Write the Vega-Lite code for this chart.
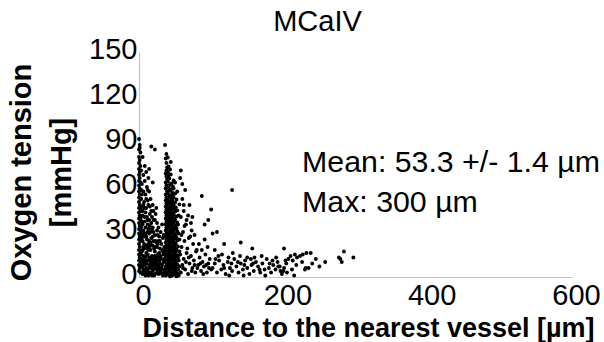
{
  "$schema": "https://vega.github.io/schema/vega-lite/v6.json",
  "autosize": {"type": "none"},
  "padding": {"left": 139, "top": 52, "right": 32, "bottom": 65},
  "width": 433,
  "height": 225,
  "background": "white",
  "config": {
    "view": {"stroke": null},
    "font": "Liberation Sans",
    "axis": {"grid": false, "ticks": false, "domainColor": "#c4c4c4", "domainWidth": 1.2, "labelColor": "black", "titleColor": "black", "labelFont": "Liberation Sans", "titleFont": "Liberation Sans"}
  },
  "title": {"text": "MCaIV", "fontSize": 29, "fontWeight": "normal", "color": "black", "font": "Liberation Sans", "anchor": "middle", "frame": "group", "dx": -38, "dy": 33, "baseline": "alphabetic", "offset": 8},
  "layer": [
    {
      "data": {"values": [
        {"x":0,"y":92},{"x":1,"y":88},{"x":0,"y":85},{"x":2,"y":83},{"x":0,"y":80},{"x":1,"y":78},{"x":0,"y":76},{"x":2,"y":74},{"x":0,"y":72},{"x":1,"y":70},{"x":0,"y":68},{"x":1,"y":66},{"x":0,"y":64},{"x":2,"y":63},{"x":0,"y":61},{"x":1,"y":59},{"x":0,"y":57},{"x":1,"y":55},{"x":0,"y":53},{"x":2,"y":52},{"x":0,"y":50},{"x":1,"y":48},{"x":0,"y":46},{"x":2,"y":45},{"x":0,"y":43},{"x":1,"y":41},{"x":0,"y":39},{"x":2,"y":38},{"x":0,"y":36},{"x":1,"y":34},{"x":0,"y":32},{"x":2,"y":31},{"x":0,"y":29},{"x":1,"y":27},{"x":0,"y":25},{"x":2,"y":24},{"x":0,"y":22},{"x":1,"y":20},{"x":0,"y":18},{"x":2,"y":17},{"x":0,"y":15},{"x":1,"y":13},{"x":0,"y":11},{"x":2,"y":10},{"x":0,"y":8},{"x":1,"y":6},{"x":0,"y":4},{"x":2,"y":3},{"x":1,"y":86},{"x":3,"y":71},{"x":3,"y":58},{"x":3,"y":44},{"x":3,"y":29},{"x":3,"y":15},{"x":3,"y":7},
        {"x":4,"y":3},{"x":6,"y":5},{"x":8,"y":2},{"x":10,"y":6},{"x":12,"y":4},{"x":14,"y":8},{"x":16,"y":3},{"x":18,"y":7},{"x":20,"y":5},{"x":22,"y":2},{"x":24,"y":9},{"x":26,"y":4},{"x":28,"y":6},{"x":30,"y":3},{"x":5,"y":10},{"x":7,"y":12},{"x":9,"y":9},{"x":11,"y":14},{"x":13,"y":11},{"x":15,"y":13},{"x":17,"y":10},{"x":19,"y":12},{"x":21,"y":8},{"x":23,"y":13},{"x":25,"y":11},{"x":27,"y":14},{"x":29,"y":9},{"x":31,"y":12},{"x":33,"y":5},{"x":34,"y":10},{"x":32,"y":2},{"x":5,"y":7},{"x":9,"y":4},{"x":13,"y":1},{"x":17,"y":6},{"x":21,"y":11},{"x":25,"y":3},{"x":29,"y":13},{"x":6,"y":14},{"x":10,"y":11},{"x":14,"y":6},{"x":18,"y":1},{"x":22,"y":9},{"x":26,"y":8},{"x":11,"y":2},{"x":19,"y":9},{"x":27,"y":2},{"x":3,"y":12},{"x":8,"y":8},{"x":16,"y":12},
        {"x":4,"y":17},{"x":7,"y":19},{"x":10,"y":16},{"x":13,"y":22},{"x":16,"y":18},{"x":19,"y":21},{"x":22,"y":17},{"x":25,"y":20},{"x":28,"y":16},{"x":5,"y":24},{"x":8,"y":27},{"x":11,"y":25},{"x":14,"y":29},{"x":17,"y":26},{"x":20,"y":30},{"x":23,"y":24},{"x":26,"y":28},{"x":6,"y":31},{"x":9,"y":33},{"x":12,"y":30},{"x":15,"y":34},{"x":18,"y":32},{"x":4,"y":28},{"x":7,"y":22},{"x":21,"y":19},{"x":24,"y":23},{"x":27,"y":24},{"x":13,"y":18},{"x":10,"y":21},{"x":16,"y":23},{"x":29,"y":19},{"x":31,"y":22},{"x":6,"y":20},{"x":12,"y":35},{"x":19,"y":27},{"x":9,"y":29},{"x":14,"y":20},{"x":3,"y":33},
        {"x":4,"y":37},{"x":8,"y":40},{"x":12,"y":38},{"x":5,"y":44},{"x":10,"y":46},{"x":15,"y":42},{"x":7,"y":50},{"x":3,"y":52},{"x":9,"y":55},{"x":13,"y":48},{"x":18,"y":40},{"x":6,"y":57},{"x":11,"y":60},{"x":16,"y":52},{"x":4,"y":62},{"x":8,"y":64},{"x":20,"y":44},{"x":22,"y":38},{"x":14,"y":57},{"x":25,"y":36},{"x":5,"y":41},{"x":17,"y":36},{"x":3,"y":47},{"x":12,"y":51},{"x":7,"y":46},
        {"x":5,"y":2},{"x":7,"y":4},{"x":9,"y":1},{"x":11,"y":5},{"x":13,"y":3},{"x":15,"y":6},{"x":17,"y":2},{"x":19,"y":4},{"x":21,"y":1},{"x":23,"y":6},{"x":25,"y":5},{"x":27,"y":7},{"x":29,"y":4},{"x":31,"y":6},{"x":33,"y":1},{"x":35,"y":3},{"x":4,"y":9},{"x":6,"y":11},{"x":8,"y":13},{"x":10,"y":9},{"x":12,"y":15},{"x":14,"y":12},{"x":16,"y":9},{"x":18,"y":14},{"x":20,"y":11},{"x":22,"y":14},{"x":24,"y":12},{"x":26,"y":15},{"x":28,"y":11},{"x":30,"y":14},{"x":32,"y":8},{"x":34,"y":15},{"x":5,"y":18},{"x":8,"y":21},{"x":11,"y":19},{"x":14,"y":24},{"x":17,"y":21},{"x":20,"y":24},{"x":23,"y":20},{"x":26,"y":22},{"x":29,"y":24},{"x":32,"y":18},{"x":35,"y":20},{"x":4,"y":26},{"x":7,"y":29},{"x":10,"y":27},{"x":13,"y":32},{"x":16,"y":30},{"x":19,"y":33},{"x":22,"y":28},{"x":25,"y":31},{"x":28,"y":27},{"x":33,"y":26},{"x":5,"y":35},{"x":8,"y":37},{"x":11,"y":40},{"x":14,"y":38},{"x":17,"y":44},{"x":20,"y":38},{"x":23,"y":42},{"x":6,"y":48},{"x":9,"y":43},{"x":15,"y":47},{"x":10,"y":52},{"x":4,"y":55},{"x":12,"y":58},{"x":19,"y":48},{"x":3,"y":40},{"x":24,"y":46},{"x":27,"y":33},{"x":30,"y":30},{"x":32,"y":35},{"x":34,"y":28},{"x":35,"y":12},{"x":33,"y":17},
        {"x":17,"y":87},{"x":22,"y":85},{"x":5,"y":80},{"x":10,"y":70},{"x":8,"y":74},{"x":13,"y":66},{"x":14,"y":72},{"x":19,"y":63},{"x":6,"y":68},
        {"x":37,"y":1},{"x":40,"y":1.7},{"x":43,"y":0.4},{"x":46,"y":1},{"x":49,"y":1.7},{"x":52,"y":0.4},{"x":55,"y":1},
        {"x":38,"y":3},{"x":41,"y":3.7},{"x":44,"y":2.4},{"x":47,"y":3},{"x":50,"y":3.7},{"x":53,"y":2.4},{"x":57,"y":3},
        {"x":36,"y":5},{"x":39,"y":5.7},{"x":42,"y":4.4},{"x":45,"y":5},{"x":48,"y":5.7},{"x":51,"y":4.4},{"x":54,"y":5},
        {"x":37,"y":7},{"x":40,"y":7.7},{"x":43,"y":6.4},{"x":46,"y":7},{"x":49,"y":7.7},{"x":52,"y":6.4},{"x":56,"y":7},
        {"x":38,"y":9},{"x":41,"y":9.7},{"x":44,"y":8.4},{"x":47,"y":9},{"x":50,"y":9.7},{"x":53,"y":8.4},
        {"x":36,"y":11},{"x":39,"y":11.7},{"x":42,"y":10.4},{"x":45,"y":11},{"x":48,"y":11.7},{"x":51,"y":10.4},{"x":55,"y":11},
        {"x":37,"y":13},{"x":40,"y":13.7},{"x":43,"y":12.4},{"x":46,"y":13},{"x":49,"y":13.7},{"x":52,"y":12.4},{"x":54,"y":13},
        {"x":38,"y":15},{"x":41,"y":15.7},{"x":44,"y":14.4},{"x":47,"y":15},{"x":50,"y":15.7},{"x":53,"y":14.4},
        {"x":36,"y":17},{"x":39,"y":17.7},{"x":42,"y":16.4},{"x":45,"y":17},{"x":48,"y":17.7},{"x":51,"y":16.4},{"x":56,"y":17},
        {"x":37,"y":19},{"x":40,"y":19.7},{"x":43,"y":18.4},{"x":46,"y":19},{"x":49,"y":19.7},{"x":52,"y":18.4},
        {"x":38,"y":21},{"x":41,"y":21.7},{"x":44,"y":20.4},{"x":47,"y":21},{"x":50,"y":21.7},{"x":54,"y":20.4},
        {"x":37,"y":23},{"x":39,"y":23.7},{"x":42,"y":22.4},{"x":45,"y":23},{"x":48,"y":23.7},{"x":51,"y":22.4},
        {"x":38,"y":25},{"x":40,"y":25.7},{"x":43,"y":24.4},{"x":46,"y":25},{"x":49,"y":25.7},{"x":53,"y":24.4},{"x":56,"y":25},
        {"x":37,"y":27},{"x":41,"y":27.7},{"x":44,"y":26.4},{"x":47,"y":27},{"x":50,"y":27.7},{"x":52,"y":26.4},
        {"x":38,"y":29},{"x":40,"y":29.7},{"x":42,"y":28.4},{"x":45,"y":29},{"x":48,"y":29.7},{"x":51,"y":28.4},{"x":55,"y":29},
        {"x":37,"y":31},{"x":39,"y":31.7},{"x":43,"y":30.4},{"x":46,"y":31},{"x":49,"y":31.7},{"x":53,"y":30.4},
        {"x":38,"y":33},{"x":41,"y":33.7},{"x":44,"y":32.4},{"x":47,"y":33},{"x":50,"y":33.7},{"x":52,"y":32.4},
        {"x":37,"y":35},{"x":40,"y":35.7},{"x":42,"y":34.4},{"x":45,"y":35},{"x":48,"y":35.7},{"x":51,"y":34.4},{"x":54,"y":35},
        {"x":38,"y":37},{"x":41,"y":37.7},{"x":43,"y":36.4},{"x":46,"y":37},{"x":49,"y":37.7},{"x":53,"y":36.4},
        {"x":37,"y":39},{"x":39,"y":39.7},{"x":42,"y":38.4},{"x":44,"y":39},{"x":47,"y":39.7},{"x":50,"y":38.4},
        {"x":38,"y":41},{"x":40,"y":41.7},{"x":43,"y":40.4},{"x":46,"y":41},{"x":48,"y":41.7},{"x":52,"y":40.4},{"x":55,"y":41},
        {"x":37,"y":43},{"x":41,"y":43.7},{"x":44,"y":42.4},{"x":47,"y":43},{"x":50,"y":43.7},
        {"x":38,"y":45},{"x":40,"y":45.7},{"x":42,"y":44.4},{"x":45,"y":45},{"x":49,"y":45.7},{"x":53,"y":44.4},
        {"x":37,"y":47},{"x":39,"y":47.7},{"x":43,"y":46.4},{"x":46,"y":47},{"x":48,"y":47.7},{"x":51,"y":46.4},
        {"x":38,"y":49},{"x":41,"y":49.7},{"x":44,"y":48.4},{"x":47,"y":49},{"x":50,"y":49.7},{"x":56,"y":48.4},
        {"x":37,"y":51},{"x":40,"y":51.7},{"x":43,"y":50.4},{"x":46,"y":51},{"x":52,"y":51.7},
        {"x":38,"y":53},{"x":42,"y":53.7},{"x":45,"y":52.4},{"x":48,"y":53},
        {"x":37,"y":55},{"x":40,"y":55.7},{"x":44,"y":54.4},{"x":47,"y":55},{"x":50,"y":55.7},
        {"x":39,"y":57},{"x":42,"y":57.7},{"x":46,"y":56.4},{"x":53,"y":57},
        {"x":37,"y":59},{"x":41,"y":59.7},{"x":44,"y":58.4},{"x":48,"y":59},
        {"x":38,"y":61},{"x":43,"y":61.7},{"x":47,"y":60.4},
        {"x":37,"y":63},{"x":40,"y":63.7},{"x":45,"y":62.4},{"x":50,"y":63},
        {"x":39,"y":65},{"x":42,"y":65.7},{"x":48,"y":64.4},
        {"x":38,"y":67},{"x":41,"y":67.7},
        {"x":37,"y":69},{"x":40,"y":69.7},{"x":44,"y":68.4},
        {"x":38,"y":71},{"x":43,"y":71.7},
        {"x":39,"y":73},{"x":41,"y":73.7},
        {"x":38,"y":76},{"x":44,"y":76.7},
        {"x":37,"y":79},{"x":40,"y":79.7},
        {"x":38,"y":82},{"x":36,"y":88},
        {"x":58,"y":3},{"x":60,"y":8},{"x":62,"y":12},{"x":64,"y":5},{"x":66,"y":16},{"x":68,"y":2},{"x":70,"y":9},{"x":72,"y":14},{"x":74,"y":6},{"x":76,"y":11},{"x":78,"y":3},{"x":80,"y":18},{"x":82,"y":8},{"x":84,"y":13},{"x":86,"y":4},{"x":88,"y":10},{"x":90,"y":7},{"x":92,"y":15},{"x":94,"y":3},{"x":96,"y":9},{"x":98,"y":12},{"x":100,"y":5},{"x":59,"y":20},{"x":63,"y":24},{"x":67,"y":19},{"x":71,"y":27},{"x":75,"y":22},{"x":79,"y":17},{"x":61,"y":30},{"x":65,"y":35},{"x":69,"y":26},{"x":73,"y":31},{"x":58,"y":40},{"x":62,"y":44},{"x":66,"y":38},{"x":70,"y":48},{"x":60,"y":52},{"x":64,"y":58},{"x":74,"y":40},{"x":77,"y":28},{"x":83,"y":22},{"x":87,"y":18},{"x":91,"y":25},{"x":95,"y":20},{"x":57,"y":15},{"x":61,"y":6},{"x":65,"y":10},{"x":69,"y":13},{"x":73,"y":4},{"x":77,"y":8},{"x":81,"y":6},{"x":85,"y":9},{"x":89,"y":2},{"x":93,"y":8},{"x":97,"y":6},{"x":59,"y":28},{"x":63,"y":34},{"x":68,"y":41},{"x":72,"y":36},{"x":60,"y":62},{"x":62,"y":48},{"x":57,"y":66},{"x":58,"y":71},
        {"x":87,"y":54},{"x":100,"y":45},{"x":96,"y":38},{"x":91,"y":35},{"x":102,"y":29},{"x":108,"y":30},{"x":129,"y":58},{"x":115,"y":15},{"x":141,"y":23},{"x":118,"y":22},{"x":105,"y":18},{"x":124,"y":13},{"x":157,"y":19},{"x":201,"y":19},
        {"x":102,"y":6},{"x":105,"y":9},{"x":108,"y":3},{"x":111,"y":11},{"x":114,"y":5},{"x":117,"y":8},{"x":120,"y":2},{"x":123,"y":10},{"x":126,"y":6},{"x":129,"y":4},{"x":132,"y":12},{"x":135,"y":7},{"x":138,"y":3},{"x":141,"y":9},{"x":144,"y":5},{"x":147,"y":11},{"x":150,"y":6},{"x":153,"y":2},{"x":156,"y":8},{"x":159,"y":4},{"x":162,"y":10},{"x":165,"y":7},{"x":168,"y":3},{"x":171,"y":9},{"x":174,"y":5},{"x":177,"y":12},{"x":180,"y":6},{"x":183,"y":3},{"x":186,"y":8},{"x":189,"y":5},{"x":192,"y":10},{"x":195,"y":7},{"x":198,"y":2},{"x":201,"y":6},{"x":204,"y":9},{"x":207,"y":12},{"x":210,"y":14},{"x":213,"y":11},{"x":216,"y":15},{"x":219,"y":13},{"x":223,"y":14},{"x":227,"y":15},{"x":232,"y":16},{"x":238,"y":16},{"x":226,"y":10},{"x":230,"y":5},{"x":212,"y":5},{"x":218,"y":8},{"x":231,"y":6},{"x":240,"y":9},{"x":250,"y":7},{"x":258,"y":10},{"x":277,"y":13},{"x":279,"y":12},{"x":281,"y":10},{"x":284,"y":17},{"x":297,"y":13},{"x":110,"y":14},{"x":130,"y":16},{"x":150,"y":13},{"x":170,"y":14},{"x":190,"y":13},{"x":200,"y":4},{"x":185,"y":11},{"x":160,"y":13},{"x":140,"y":14},{"x":125,"y":1},{"x":145,"y":1},{"x":175,"y":1},{"x":235,"y":6},{"x":245,"y":12},{"x":205,"y":3},{"x":215,"y":1},{"x":193,"y":7},{"x":106,"y":12},{"x":118,"y":6},{"x":137,"y":10},{"x":158,"y":9},{"x":167,"y":5},{"x":181,"y":9},{"x":196,"y":4},{"x":203,"y":11},{"x":146,"y":8},{"x":155,"y":12},{"x":128,"y":9}
      ]},
      "mark": {"type": "circle", "size": 15, "color": "black", "opacity": 1},
      "encoding": {
        "x": {"field": "x", "type": "quantitative", "scale": {"domain": [0, 600], "nice": false, "zero": true},
          "axis": {"values": [0, 200, 400, 600], "labelFontSize": 29, "labelPadding": 4, "labelOffset": 4, "labelFlush": false,
            "title": "Distance to the nearest vessel [µm]", "titleFontSize": 27, "titleFontWeight": "bold", "titleX": 229, "titleY": 59, "titleAnchor": "middle", "titleAlign": "center", "titleBaseline": "alphabetic"}},
        "y": {"field": "y", "type": "quantitative", "scale": {"domain": [0, 150], "nice": false},
          "axis": {"values": [0, 30, 60, 90, 120, 150], "labelFontSize": 29, "labelPadding": 2, "labelOffset": -3, "labelFlush": false,
            "title": ["Oxygen tension", "[mmHg]"], "titleFontSize": 29, "titleFontWeight": "bold", "titleLineHeight": 40, "titleAngle": 270, "titleX": -109, "titleY": 120, "titleAlign": "center", "titleBaseline": "alphabetic"}}
      }
    },
    {
      "data": {"values": [
        {"x": 226, "y": 70, "label": "Mean: 53.3 +/- 1.4 µm"},
        {"x": 226, "y": 43.3, "label": "Max: 300 µm"}
      ]},
      "mark": {"type": "text", "align": "left", "baseline": "alphabetic", "fontSize": 30.3, "font": "Liberation Sans", "color": "black"},
      "encoding": {
        "x": {"field": "x", "type": "quantitative"},
        "y": {"field": "y", "type": "quantitative"},
        "text": {"field": "label"}
      }
    }
  ]
}
